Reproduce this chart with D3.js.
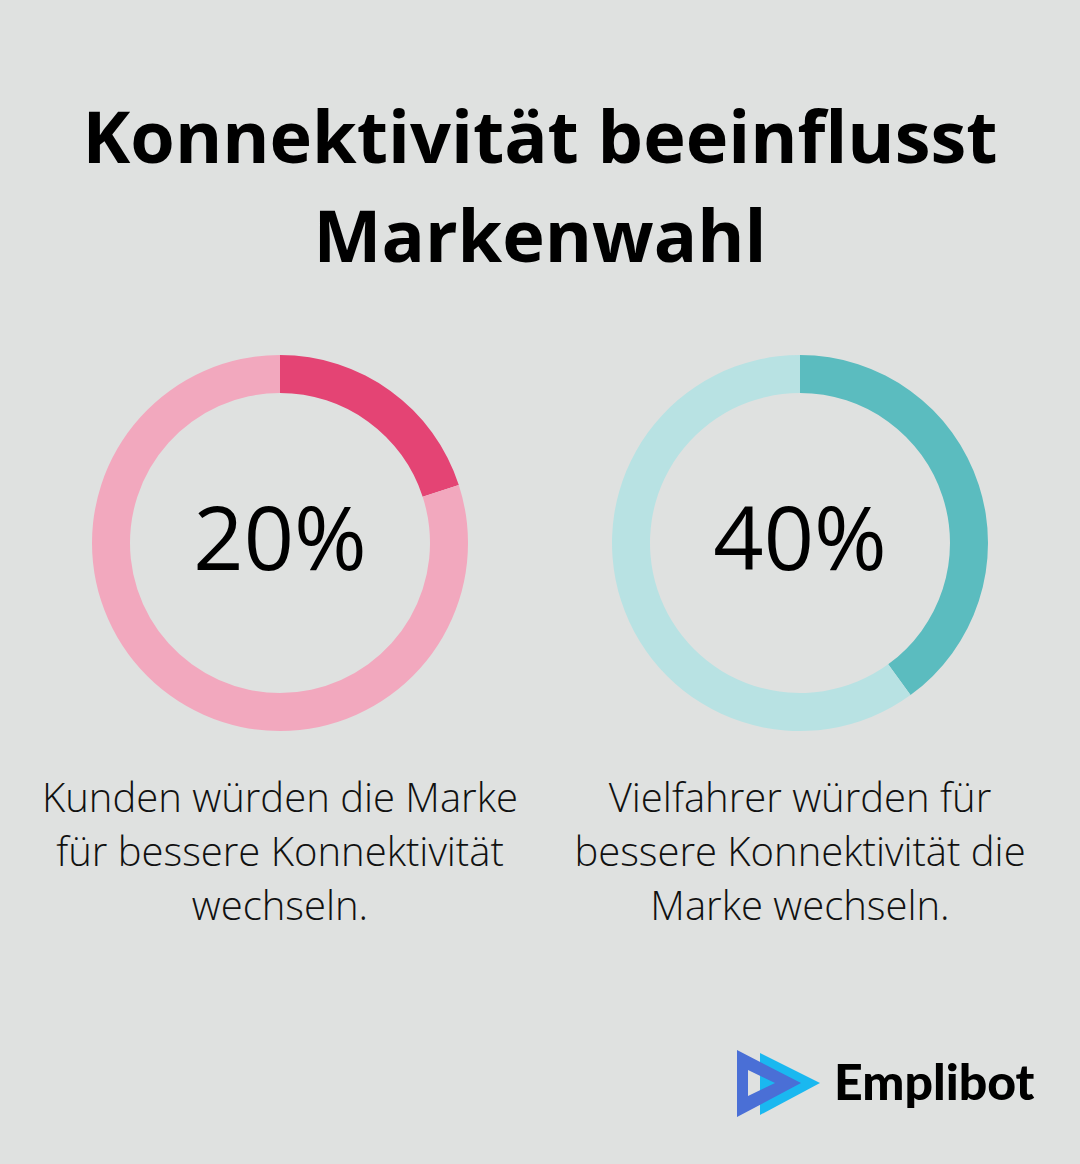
<!DOCTYPE html>
<html>
<head>
<meta charset="utf-8">
<script src="https://cdn.jsdelivr.net/npm/d3@7"></script>
<style>
  html, body { margin: 0; padding: 0; background: #dfe1e0; }
  svg { display: block; }
</style>
</head>
<body>
<svg id="chart" width="1080" height="1164"></svg>
<script>
// chart data
var titleLines = ["Konnektivität beeinflusst", "Markenwahl"];
var values = [20, 40];
var valueLabels = ["20%", "40%"];
var captions = [
  ["Kunden würden die Marke", "für bessere Konnektivität", "wechseln."],
  ["Vielfahrer würden für", "bessere Konnektivität die", "Marke wechseln."]
];
var mainColors = ["#e44474", "#5bbcbf"];
var restColors = ["#f2a8be", "#b8e2e3"];

var svg = d3.select("#chart");

// title
svg.append("g").selectAll("text")
  .data(titleLines)
  .enter().append("text")
  .attr("x", 540)
  .attr("y", function (d, i) { return 163 + i * 99; })
  .attr("text-anchor", "middle")
  .style("font-family", "'Open Sans', sans-serif")
  .style("font-weight", 700)
  .style("font-size", "72px")
  .style("fill", "#000")
  .text(function (d) { return d; });

var pie = d3.pie().sort(null).value(function (d) { return d; });
var arc = d3.arc().innerRadius(150).outerRadius(188);
var centers = [280, 800];

values.forEach(function (v, i) {
  var g = svg.append("g").attr("transform", "translate(" + centers[i] + ",543)");
  g.selectAll("path")
    .data(pie([v, 100 - v]))
    .enter().append("path")
    .attr("d", arc)
    .attr("fill", function (d, j) { return j === 0 ? mainColors[i] : restColors[i]; });

  g.append("text")
    .attr("x", 0)
    .attr("y", 27)
    .attr("text-anchor", "middle")
    .style("font-family", "'Open Sans', sans-serif")
    .style("font-size", "88px")
    .style("fill", "#000")
    .text(valueLabels[i]);

  svg.append("g").selectAll("text")
    .data(captions[i])
    .enter().append("text")
    .attr("x", centers[i])
    .attr("y", function (d, k) { return 812 + k * 54; })
    .attr("text-anchor", "middle")
    .style("font-family", "'Open Sans', sans-serif")
    .style("font-weight", 300)
    .style("font-size", "40px")
    .style("fill", "#111")
    .text(function (d) { return d; });
});

// logo
var logo = svg.append("g").attr("transform", "translate(737,1050)");
logo.append("path")
  .attr("d", "M23,3 L83,33 L23,65 Z")
  .attr("fill", "#1ab8f0");
logo.append("path")
  .attr("d", "M0,0 L0,67 L64,33 Z M11,20 L11,46 L38,33 Z")
  .attr("fill-rule", "evenodd")
  .attr("fill", "#4a6fd6");
svg.append("text")
  .attr("x", 834)
  .attr("y", 1100)
  .style("font-family", "'Lato', sans-serif")
  .style("font-weight", 900)
  .style("font-size", "50px")
  .style("fill", "#000")
  .text("Emplibot");
</script>
</body>
</html>
